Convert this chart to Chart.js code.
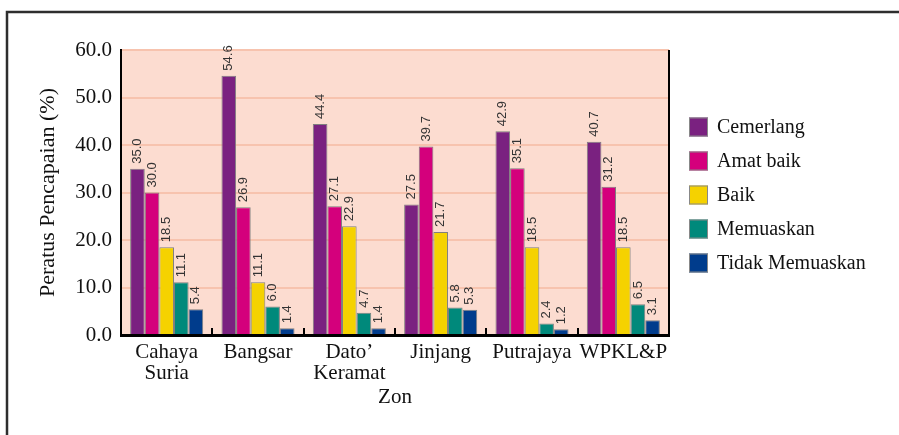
<!DOCTYPE html>
<html>
<head>
<meta charset="utf-8">
<script src="https://cdn.jsdelivr.net/npm/chart.js@4.4.0/dist/chart.umd.min.js"></script>
<style>
  html, body { margin: 0; padding: 0; background: #fff; }
  canvas { display: block; }
</style>
</head>
<body>
<canvas id="chart" width="899" height="435"></canvas>
<script>
const zon = [['Cahaya', 'Suria'], 'Bangsar', ['Dato\u2019', 'Keramat'], 'Jinjang', 'Putrajaya', 'WPKL&P'];
const tahap = ['Cemerlang', 'Amat baik', 'Baik', 'Memuaskan', 'Tidak Memuaskan'];
const cemerlang = [35.0, 54.6, 44.4, 27.5, 42.9, 40.7];
const amatBaik = [30.0, 26.9, 27.1, 39.7, 35.1, 31.2];
const baik = [18.5, 11.1, 22.9, 21.7, 18.5, 18.5];
const memuaskan = [11.1, 6.0, 4.7, 5.8, 2.4, 6.5];
const tidakMemuaskan = [5.4, 1.4, 1.4, 5.3, 1.2, 3.1];
const warna = ['#7a2180', '#d4007c', '#f5d200', '#00897b', '#003c8c'];

const serif = '"Liberation Serif", "Times New Roman", serif';
const chartCanvas = document.getElementById('chart');

// frame, plot background, right axis, inner category ticks
const framePlugin = {
  id: 'frame',
  beforeDraw(chart) {
    const ctx = chart.ctx;
    const a = chart.chartArea;
    ctx.save();
    ctx.strokeStyle = '#2e2e2e';
    ctx.lineWidth = 2.5;
    ctx.strokeRect(7, 12, 1200, 1200);
    ctx.fillStyle = '#fcdcd0';
    ctx.fillRect(a.left, a.top, a.right - a.left, a.bottom - a.top);
    ctx.restore();
  },
  afterDraw(chart) {
    const ctx = chart.ctx;
    const a = chart.chartArea;
    const x = chart.scales.x;
    ctx.save();
    ctx.strokeStyle = '#000';
    ctx.lineWidth = 2;
    ctx.beginPath();
    ctx.moveTo(a.right, a.top);
    ctx.lineTo(a.right, a.bottom + 1);
    for (let i = 0; i < zon.length - 1; i++) {
      const bx = Math.round((x.getPixelForValue(i) + x.getPixelForValue(i + 1)) / 2);
      ctx.moveTo(bx, a.bottom);
      ctx.lineTo(bx, a.bottom - 7);
    }
    ctx.stroke();

    // legend
    ctx.font = '20px ' + serif;
    ctx.textBaseline = 'middle';
    ctx.textAlign = 'left';
    chart.data.datasets.forEach((ds, i) => {
      const cy = 127 + i * 34;
      ctx.fillStyle = ds.backgroundColor;
      ctx.fillRect(689, cy - 9.5, 19, 19);
      ctx.strokeStyle = '#888';
      ctx.lineWidth = 1;
      ctx.strokeRect(689.5, cy - 9, 18, 18);
      ctx.fillStyle = '#111';
      ctx.fillText(ds.label, 717, cy + 1);
    });
    ctx.restore();
  }
};

// vertical value labels above bars
const labelPlugin = {
  id: 'nilai',
  afterDatasetsDraw(chart) {
    const ctx = chart.ctx;
    ctx.save();
    ctx.font = '13px "Liberation Sans", Arial, sans-serif';
    ctx.fillStyle = '#333';
    ctx.textAlign = 'left';
    ctx.textBaseline = 'middle';
    chart.data.datasets.forEach((ds, i) => {
      chart.getDatasetMeta(i).data.forEach((bar, j) => {
        ctx.save();
        ctx.translate(bar.x, bar.y - 5);
        ctx.rotate(-Math.PI / 2);
        ctx.fillText(ds.data[j].toFixed(1), 0, 0);
        ctx.restore();
      });
    });
    ctx.restore();
  }
};

const seriesData = [cemerlang, amatBaik, baik, memuaskan, tidakMemuaskan];

new Chart(chartCanvas, {
  type: 'bar',
  data: {
    labels: zon,
    datasets: tahap.map((t, i) => ({
      label: t,
      data: seriesData[i],
      backgroundColor: warna[i],
      borderColor: '#7f7f7f',
      borderWidth: 1,
      categoryPercentage: 0.8,
      barPercentage: 1.0
    }))
  },
  options: {
    responsive: false,
    animation: false,
    layout: { padding: { left: 0, top: 50, right: 230, bottom: 0 } },
    plugins: { legend: { display: false }, tooltip: { enabled: false } },
    scales: {
      x: {
        grid: { display: false, drawTicks: false },
        border: { display: true, color: '#000', width: 3 },
        ticks: {
          color: '#111', padding: 7, maxRotation: 0, autoSkip: false,
          font: { family: serif, size: 21, lineHeight: 1.0 }
        },
        title: {
          display: true, text: 'Zon', color: '#111',
          font: { family: serif, size: 21, lineHeight: 1.2 },
          padding: { top: 0, bottom: 25 }
        },
        afterFit(s) { s.height = 100; }
      },
      y: {
        min: 0, max: 60,
        grid: { color: '#f7c3ae', lineWidth: 2, drawTicks: false },
        border: { display: true, color: '#000', width: 2 },
        ticks: {
          stepSize: 10, color: '#111', padding: 9,
          font: { family: serif, size: 21 },
          callback: v => v.toFixed(1)
        },
        title: {
          display: true, text: 'Peratus Pencapaian (%)', color: '#111',
          font: { family: serif, size: 22, lineHeight: 1.2 },
          padding: { top: 35, bottom: 0 }
        },
        afterFit(s) { s.width = 121; }
      }
    }
  },
  plugins: [framePlugin, labelPlugin]
});
</script>
</body>
</html>
